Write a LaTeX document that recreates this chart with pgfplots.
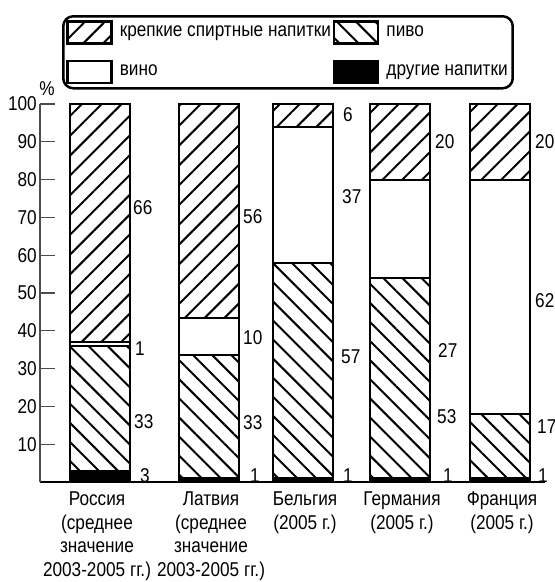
\documentclass[border=0pt]{standalone}
\usepackage{fontspec}
\setmainfont{Liberation Sans}[FakeStretch=0.86]
\usepackage{pgfplots}
\usepackage{pgfplotstable}
\pgfplotsset{compat=1.18}
\usetikzlibrary{patterns.meta}
\pgfplotsset{swatch/.style={legend image code/.code={\draw[##1,sharp corners,line width=2.5pt] (0pt,-11pt) rectangle (44pt,11pt);}}}
\tikzset{
 spirits/.style={pattern={Lines[angle=45,distance=14pt,line width=2pt]}, pattern color=black, draw=black},
 beer/.style={pattern={Lines[angle=-45,distance=13.5pt,line width=2pt]}, pattern color=black, draw=black},
}
\pgfplotstableread{
x other beer wine spirits
100 3 33 1 63
209 1 32.5 10 56.5
303 1 57 36 6
400 1 53 26 20
500 1 17 62 20
}\data
\begin{document}
\fontsize{20}{24}\selectfont
\begin{tikzpicture}
\begin{axis}[
 x=1pt, y=3.78pt,
 xmin=40, xmax=545, ymin=0, ymax=100,
 enlargelimits=false,
 clip=false,
 ybar stacked, bar width=60pt,
 axis lines=left,
 axis line style={-},
 x axis line style={line width=1.6pt},
 y axis line style={line width=1.3pt, draw=black!70},
 tick align=inside,
 major tick length=15pt,
 ytick={10,20,...,100},
 y tick style={line width=1.3pt, draw=black!70},
 yticklabel style={inner xsep=0pt, xshift=-3pt},
 xtick={97,211,305,402,502},
 xticklabels={{Россия\\(среднее\\значение\\2003-2005 гг.)},{Латвия\\(среднее\\значение\\2003-2005 гг.)},{Бельгия\\(2005 г.)},{Германия\\(2005 г.)},{Франция\\(2005 г.)}},
 xticklabel style={align=center, font=\fontsize{20}{23.5}\selectfont, yshift=-3pt},
 x tick style={draw=none},
 /pgf/number format/assume math mode=true,
 ylabel={\%},
 every axis y label/.style={at={(axis description cs:0,1)}, anchor=center, xshift=7pt, yshift=15pt},
 legend columns=2,
 legend cell align=left,
 legend style={at={(axis description cs:0.0436,1.2354)}, anchor=north west, draw=black, line width=2.5pt, rounded corners=10pt, row sep=15pt, inner xsep=3pt, inner ysep=4pt, nodes={inner xsep=2pt, inner ysep=0pt}, /tikz/every odd column/.append style={column sep=5pt}},
]
\addplot[fill=black, draw=black, line width=2pt, forget plot] table[x=x,y=other]{\data};
\addplot[beer, line width=2pt, forget plot] table[x=x,y=beer]{\data};
\addplot[fill=white, draw=black, line width=2pt, forget plot] table[x=x,y=wine]{\data};
\addplot[spirits, line width=2pt, forget plot] table[x=x,y=spirits]{\data};
\addlegendimage{swatch, spirits}
\addlegendentry{крепкие спиртные напитки}
\addlegendimage{swatch, beer}
\addlegendentry{пиво}
\addlegendimage{swatch, fill=white, draw=black}
\addlegendentry{вино}
\addlegendimage{swatch, fill=black, draw=black}
\addlegendentry{другие напитки}
% value labels
\node[anchor=west, inner sep=0pt] at (axis cs:133,72.5) {66};
\node[anchor=west, inner sep=0pt] at (axis cs:135,35.4) {1};
\node[anchor=west, inner sep=0pt] at (axis cs:134,15.9) {33};
\node[anchor=west, inner sep=0pt] at (axis cs:140,1.8) {3};
\node[anchor=west, inner sep=0pt] at (axis cs:243,70.1) {56};
\node[anchor=west, inner sep=0pt] at (axis cs:243,38.1) {10};
\node[anchor=west, inner sep=0pt] at (axis cs:243,15.6) {33};
\node[anchor=west, inner sep=0pt] at (axis cs:250,1.8) {1};
\node[anchor=west, inner sep=0pt] at (axis cs:343,97.1) {6};
\node[anchor=west, inner sep=0pt] at (axis cs:342,75.4) {37};
\node[anchor=west, inner sep=0pt] at (axis cs:341,33.1) {57};
\node[anchor=west, inner sep=0pt] at (axis cs:343,1.8) {1};
\node[anchor=west, inner sep=0pt] at (axis cs:435,90) {20};
\node[anchor=west, inner sep=0pt] at (axis cs:438,34.9) {27};
\node[anchor=west, inner sep=0pt] at (axis cs:437,17.2) {53};
\node[anchor=west, inner sep=0pt] at (axis cs:443,1.8) {1};
\node[anchor=west, inner sep=0pt] at (axis cs:535,90) {20};
\node[anchor=west, inner sep=0pt] at (axis cs:535,48.1) {62};
\node[anchor=west, inner sep=0pt] at (axis cs:537,14.6) {17};
\node[anchor=west, inner sep=0pt] at (axis cs:538,1.8) {1};
\end{axis}
\pgfresetboundingbox
\path[use as bounding box] (-40pt,-100pt) rectangle (515pt,482pt);
\end{tikzpicture}
\end{document}
